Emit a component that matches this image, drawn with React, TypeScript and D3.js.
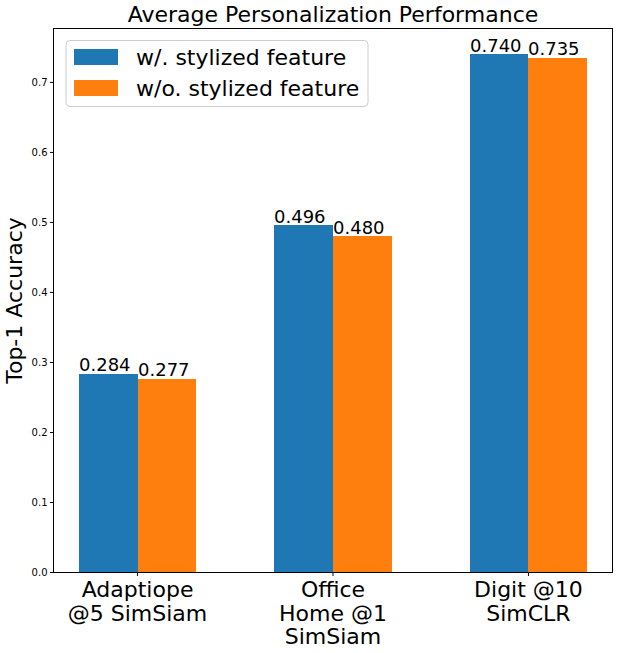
import React from "react";
import * as d3 from "d3";

const categories = [["Adaptiope", "@5 SimSiam"], ["Office", "Home @1", "SimSiam"], ["Digit @10", "SimCLR"]];
const seriesNames = ["w/. stylized feature", "w/o. stylized feature"];
const withStylized = [0.284, 0.496, 0.740];
const withoutStylized = [0.277, 0.480, 0.735];
const yTicks = [0.0, 0.1, 0.2, 0.3, 0.4, 0.5, 0.6, 0.7];
const colors = ["#1f77b4", "#ff7f0e"];

export default function App() {
  const W = 619, H = 653;
  const left = 53.5, right = 612.5, top = 28.5, bottom = 572.5;
  const x = d3.scaleLinear().domain([-0.43, 2.43]).range([left, right]);
  const y = d3.scaleLinear().domain([0, 0.777]).range([bottom, top]);
  const bw = 0.3;
  const series = [withStylized, withoutStylized];
  const font = "DejaVu Sans, sans-serif";
  return (
    <svg width={W} height={H} style={{ position: "absolute", left: 0, top: 0, background: "#fff" }} fontFamily={font}>
      <rect x={0} y={0} width={W} height={H} fill="#fff" />
      {series.map((vals, si) =>
        vals.map((v, i) => {
          const x0 = Math.round(x(i + (si === 0 ? -bw : 0)));
          const x1 = Math.round(x(i + (si === 0 ? 0 : bw)));
          return (
            <g key={`${si}-${i}`}>
              <rect x={x0} y={y(v)} width={x1 - x0} height={y(0) - y(v)} fill={colors[si]} shapeRendering="crispEdges" />
              <text x={x0} y={y(v) - 2.5} textAnchor="start" fontSize={18} fill="#000">
                {v.toFixed(3)}
              </text>
            </g>
          );
        })
      )}
      <rect x={left} y={top} width={right - left} height={bottom - top} fill="none" stroke="#000" strokeWidth={1} />
      {yTicks.map((t) => (
        <g key={t}>
          <line x1={left - 3.5} x2={left} y1={y(t)} y2={y(t)} stroke="#000" />
          <text x={left - 6} y={y(t)} dy="0.35em" textAnchor="end" fontSize={10} fill="#000">
            {t.toFixed(1)}
          </text>
        </g>
      ))}
      {categories.map((lines, i) => (
        <g key={i}>
          <line x1={x(i)} x2={x(i)} y1={bottom} y2={bottom + 3.5} stroke="#000" />
          <text textAnchor="middle" fontSize={22} fill="#000">
            {lines.map((l, j) => (
              <tspan key={j} x={x(i)} y={597 + j * 23.5}>
                {l}
              </tspan>
            ))}
          </text>
        </g>
      ))}
      <text x={(left + right) / 2} y={22} textAnchor="middle" fontSize={22} fill="#000">
        Average Personalization Performance
      </text>
      <text transform={`translate(22,${(top + bottom) / 2}) rotate(-90)`} textAnchor="middle" fontSize={22} fill="#000">
        Top-1 Accuracy
      </text>
      <g>
        <rect x={66} y={40.5} width={302} height={66} rx={4} fill="#fff" fillOpacity={0.8} stroke="#ccc" />
        {seriesNames.map((n, i) => (
          <g key={n}>
            <rect x={74} y={49 + i * 31} width={44} height={16} fill={colors[i]} />
            <text x={136} y={57 + i * 31} dy="0.35em" fontSize={22} fill="#000">
              {n}
            </text>
          </g>
        ))}
      </g>
    </svg>
  );
}
